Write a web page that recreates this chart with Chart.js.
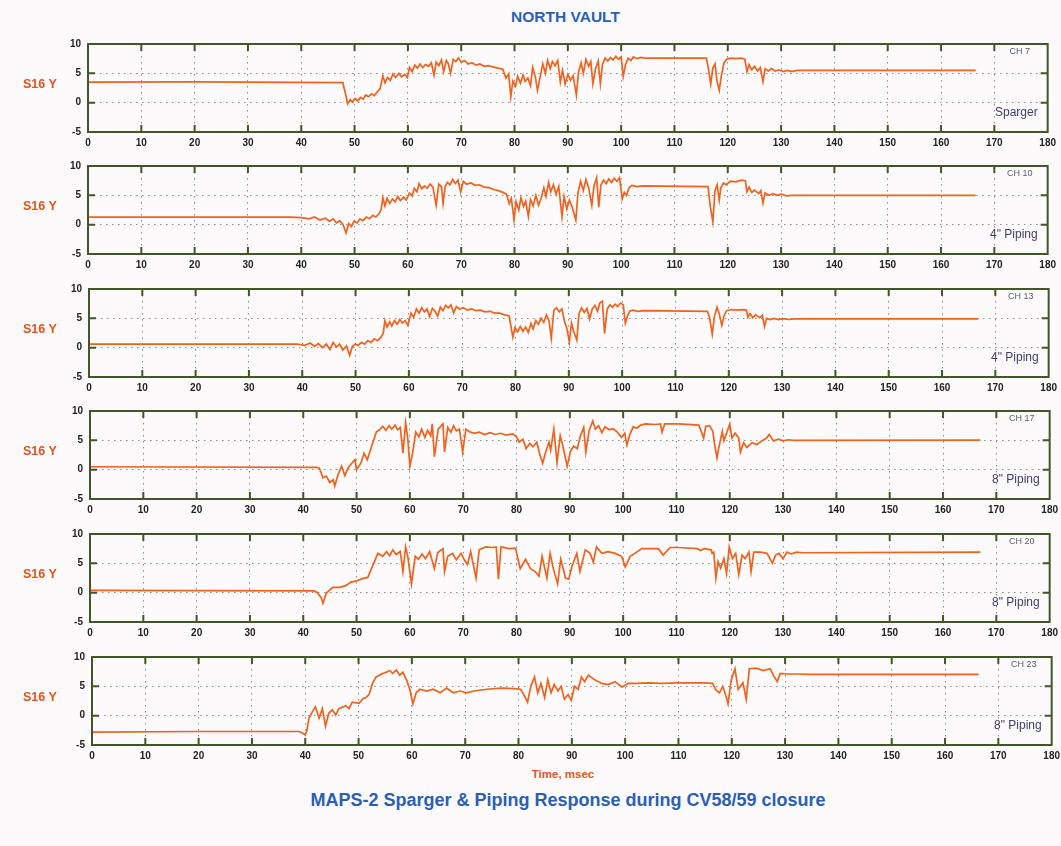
<!DOCTYPE html>
<html>
<head>
<meta charset="utf-8">
<script src="https://cdn.jsdelivr.net/npm/chart.js@4.4.0/dist/chart.umd.min.js"></script>
<style>
  body { margin: 0; background: #fcfafa; font-family: "Liberation Sans", Arial, sans-serif; }
  #page { position: relative; width: 1061px; height: 846px; overflow: hidden; }
  .panel { position: absolute; width: 1061px; height: 125px; }
  .ylab { position: absolute; left: 23px; color: #e5541f; font-weight: bold; font-size: 12.5px; }
  #title { position: absolute; top: 8px; left: 0; width: 1131px; text-align: center; color: #2b5fb4; font-weight: bold; font-size: 15.5px; }
  #xlab { position: absolute; top: 768px; left: 0; width: 1126px; text-align: center; color: #e5541f; font-weight: bold; font-size: 11.5px; }
  #foot { position: absolute; top: 790px; left: 0; width: 1136px; text-align: center; color: #2b5fb4; font-weight: bold; font-size: 18px; }
</style>
</head>
<body>
<div id="page">
  <div id="title">NORTH VAULT</div>
  <div id="xlab">Time, msec</div>
  <div id="foot">MAPS-2 Sparger &amp; Piping Response during CV58/59 closure</div>
</div>
<script>
// channel labels
var channels = ['CH 7', 'CH 10', 'CH 13', 'CH 17', 'CH 20', 'CH 23'];
var locations = ['Sparger', '4" Piping', '4" Piping', '8" Piping', '8" Piping', '8" Piping'];
var xTicks = [0, 10, 20, 30, 40, 50, 60, 70, 80, 90, 100, 110, 120, 130, 140, 150, 160, 170, 180];
var yTicks = [-5, 0, 5, 10];

// CH 7 - Sparger (time in msec, S16 Y)
var ch7T = [0, 20, 47.8, 48.3, 48.7, 49.2, 49.6, 50.1, 50.6, 51.1, 51.6, 52.1, 52.6, 53.2, 53.7, 54.3, 54.8, 55.3, 55.7, 56.2, 56.7, 57.2, 57.7, 58.3, 58.8, 59.4, 59.9,
  60.3, 60.8, 61.3, 61.8, 62.3, 62.8, 63.3, 63.9, 64.4, 64.9, 65.3, 65.8, 66.3, 66.7, 67.2, 67.6, 68.0, 68.5, 69.0, 69.5, 70.0, 70.6, 71.3, 72.0, 72.8, 73.5, 74.3, 75.1,
  76.0, 76.9, 77.8, 78.4, 78.9, 79.3, 79.7, 80.2, 80.6, 81.1, 81.6, 82.0, 82.5, 83.0, 83.4, 83.9, 84.3, 84.8, 85.3, 85.8, 86.2, 86.7, 87.1, 87.6, 88.1, 88.6, 89.0,
  89.5, 90.0, 90.5, 91.0, 91.6, 92.0, 92.5, 92.9, 93.4, 93.9, 94.3, 94.7, 95.2, 95.7, 96.1, 96.5, 97.0, 97.5, 98.0, 98.5, 99.0, 99.5, 100.0, 100.4, 100.8, 101.3,
  101.8, 102.3, 103.0, 103.6, 104.4, 116.0, 116.4, 116.8, 117.2, 117.6, 118.0, 118.4, 118.8, 119.3, 119.8, 120.5, 121.5, 122.5, 123.2, 123.6, 124.0, 124.5,
  125.0, 125.6, 126.1, 126.6, 127.0, 127.6, 128.2, 128.9, 129.6, 130.4, 131.2, 132.0, 133.0, 166.5];
var ch7Y = [3.5, 3.55, 3.4, 1.5, -0.2, 0.5, 0.1, 0.7, 0.3, 0.9, 0.6, 1.3, 1.0, 1.5, 1.2, 1.9, 2.4, 4.6, 3.4, 4.3, 3.8, 4.9, 4.3, 5.0, 4.4, 4.8, 4.3,
  6.0, 5.3, 6.4, 5.9, 6.6, 6.0, 6.5, 6.2, 6.8, 4.7, 6.9, 6.3, 7.3, 5.3, 7.2, 6.6, 5.0, 7.4, 7.0, 7.6, 6.9, 7.2, 6.6, 6.8, 6.4, 6.6, 6.2, 6.3,
  6.1, 5.9, 5.7, 4.2, 4.9, 1.0, 3.7, 2.8, 4.5, 3.3, 4.7, 3.6, 4.2, 2.9, 6.0, 4.4, 2.1, 4.3, 6.6, 5.0, 7.2, 5.8, 7.0, 6.3, 7.2, 3.5, 5.5,
  3.2, 4.8, 3.8, 4.6, 1.3, 5.2, 6.8, 5.0, 7.4, 6.2, 7.0, 3.2, 5.8, 7.1, 3.2, 6.5, 7.6, 7.1, 7.7, 7.3, 7.9, 7.4, 7.8, 4.5, 6.4, 7.6,
  7.2, 7.8, 7.5, 7.7, 7.6, 7.6, 5.6, 3.2, 5.9, 6.6, 3.6, 2.1, 4.6, 6.8, 7.4, 7.6, 7.5, 7.6, 7.4, 5.3, 6.5, 5.6,
  6.2, 5.4, 6.0, 3.6, 5.8, 5.4, 5.8, 5.4, 5.6, 5.3, 5.5, 5.3, 5.5, 5.5];

// CH 10 - 4" Piping
var ch10T = [0, 38, 40, 41.5, 42.5, 43.5, 44.5, 45.3, 46.0, 46.6, 47.2, 47.8, 48.4, 48.9, 49.4, 49.9, 50.5, 51.0, 51.6, 52.2, 52.8, 53.4, 54.0, 54.6, 55.0,
  55.3, 55.7, 56.1, 56.6, 57.1, 57.6, 58.1, 58.6, 59.2, 59.7, 60.3, 60.8, 61.2, 61.7, 62.1, 62.6, 63.1, 63.6, 64.2, 64.7, 65.3, 65.8, 66.3, 66.6, 67.0, 67.4,
  67.9, 68.4, 68.9, 69.4, 69.9, 70.4, 71.0, 71.8, 72.6, 73.4, 74.3, 75.2, 76.1, 77.0, 77.8, 78.5, 79.0, 79.4, 79.9, 80.3, 80.8, 81.2, 81.7, 82.1, 82.6, 83.0,
  83.5, 84.0, 84.5, 85.0, 85.5, 85.9, 86.4, 86.8, 87.3, 87.8, 88.3, 88.9, 89.3, 89.8, 90.3, 90.8, 91.5, 91.9, 92.4, 92.9, 93.4, 93.9, 94.5, 94.9, 95.4, 95.8,
  96.2, 96.7, 97.2, 97.7, 98.2, 98.7, 99.2, 99.7, 100.2, 100.6, 101.0, 101.5, 102.0, 103.0, 104.0, 116.3, 116.7, 117.2, 117.6, 118.0, 118.4, 118.7, 119.2,
  119.7, 120.5, 121.5, 122.5, 123.3, 123.6, 124.0, 124.5, 125.0, 125.8, 126.2, 126.6, 127.0, 127.7, 128.4, 129.2, 130.0, 131.0, 132.0, 166.5];
var ch10Y = [1.3, 1.3, 1.2, 1.0, 1.3, 0.8, 1.1, 0.6, 1.0, 0.3, 0.7, 0.1, -1.4, 0.2, -0.3, 0.6, 0.3, 1.0, 0.7, 1.3, 1.0, 1.6, 1.3, 1.9, 2.6,
  4.6, 3.2, 4.5, 3.6, 4.4, 3.9, 4.8, 4.1, 4.7, 4.2, 5.4, 4.9, 6.2, 5.6, 7.0, 6.1, 6.6, 6.2, 6.9, 6.4, 3.3, 6.9, 6.5, 3.6, 6.5, 7.2,
  6.8, 7.7, 7.0, 7.6, 5.6, 7.4, 6.9, 7.1, 6.7, 6.8, 6.4, 6.3, 6.0, 5.8, 5.5, 5.2, 3.6, 4.5, 0.8, 3.9, 2.5, 4.6, 3.1, 4.0, 1.4, 4.3,
  3.2, 5.0, 3.3, 4.5, 6.3, 4.8, 7.2, 5.6, 6.8, 5.2, 6.5, 1.4, 4.8, 2.7, 4.2, 3.0, 0.8, 5.4, 7.4, 5.8, 7.7, 6.3, 3.3, 6.6, 8.0, 3.0,
  6.7, 7.6, 7.0, 7.8, 7.2, 7.9, 7.4, 8.0, 4.4, 5.5, 5.0, 6.3, 6.7, 6.5, 6.6, 6.5, 3.2, 0.5, 5.8, 6.8, 4.2, 6.3, 7.1,
  6.8, 7.4, 7.3, 7.6, 7.5, 5.6, 6.4, 5.5, 5.9, 5.3, 5.8, 3.7, 5.4, 5.0, 5.3, 5.0, 5.2, 4.9, 5.0, 5.0];

// CH 13 - 4" Piping
var ch13T = [0, 39, 40.5, 41.5, 42.3, 43.0, 43.8, 44.5, 45.2, 45.8, 46.4, 47.0, 47.6, 48.3, 48.9, 49.4, 49.9, 50.5, 51.1, 51.7, 52.3, 52.9, 53.5, 54.1, 54.8,
  55.2, 55.5, 55.9, 56.4, 56.8, 57.3, 57.8, 58.3, 58.8, 59.3, 59.8, 60.4, 60.9, 61.4, 61.9, 62.4, 62.9, 63.4, 63.9, 64.4, 64.9, 65.4, 65.9, 66.4, 66.9, 67.4,
  67.9, 68.4, 68.9, 69.5, 70.2, 71.0, 71.8, 72.6, 73.4, 74.3, 75.2, 76.1, 77.0, 78.0, 78.8, 79.5, 79.9, 80.4, 80.9, 81.4, 81.9, 82.4, 82.9, 83.3, 83.8, 84.3,
  84.8, 85.3, 85.8, 86.3, 86.7, 87.2, 87.7, 88.2, 88.7, 89.2, 89.6, 90.1, 90.5, 90.9, 91.5, 91.9, 92.4, 92.9, 93.4, 93.9, 94.4, 94.9, 95.4, 95.8, 96.3, 96.7,
  97.2, 97.7, 98.2, 98.7, 99.2, 99.7, 100.2, 100.6, 101.0, 101.4, 102.0, 103.0, 104.0, 116.0, 116.4, 116.9, 117.3, 117.8, 118.2, 118.7, 119.1, 119.6, 120.5,
  121.5, 122.5, 123.3, 123.6, 124.0, 124.5, 125.0, 125.8, 126.3, 126.7, 127.1, 127.8, 128.5, 129.3, 130.2, 131.2, 132.5, 166.8];
var ch13Y = [0.6, 0.6, 0.4, 0.8, 0.2, 0.7, 0.0, 0.6, -0.3, 0.9, 0.1, 0.6, -0.4, 0.3, -1.3, 0.2, 0.6, 0.4, 0.9, 0.6, 1.2, 0.9, 1.5, 1.2, 1.8,
  2.5, 4.6, 3.5, 4.4, 3.7, 4.6, 4.0, 4.8, 4.2, 4.6, 3.8, 5.9, 5.2, 6.6, 5.9, 6.8, 6.1, 6.6, 5.3, 6.7, 6.2, 5.4, 6.9, 6.3, 7.2, 6.8,
  7.3, 5.9, 7.0, 6.6, 6.8, 6.4, 6.6, 6.3, 6.4, 6.1, 6.2, 5.9, 5.9, 5.6, 5.4, 1.8, 3.4, 2.7, 3.6, 2.8, 3.5, 2.6, 4.1, 3.2, 4.6, 4.0,
  5.0, 4.3, 5.6, 4.5, 1.6, 6.4, 6.8, 6.1, 6.6, 4.4, 3.4, 1.0, 4.2, 2.8, 1.3, 5.8, 6.8, 6.0, 6.7, 4.9, 6.6, 7.2, 6.2, 7.6, 7.9, 2.4,
  6.6, 7.3, 6.9, 7.4, 7.0, 7.6, 7.3, 4.2, 5.4, 6.2, 6.4, 6.2, 6.3, 6.2, 5.1, 2.3, 5.3, 6.9, 5.8, 3.8, 5.4, 6.3, 6.5,
  6.4, 6.5, 6.4, 5.2, 5.8, 5.1, 5.6, 5.1, 5.5, 3.6, 5.0, 4.8, 5.0, 4.8, 4.95, 4.8, 4.9, 4.9];

// CH 17 - 8" Piping
var ch17T = [0, 42.5, 43.0, 43.7, 44.3, 45.0, 45.6, 45.9, 46.5, 47.2, 47.8, 48.4, 49.1, 49.7, 50.0, 50.8, 51.4, 52.0, 52.8, 53.7, 54.3, 54.9, 55.5, 56.1, 56.6,
  57.2, 57.7, 58.2, 58.7, 59.2, 59.6, 60.0, 60.5, 61.1, 61.7, 62.2, 62.8, 63.3, 63.9, 64.2, 64.6, 65.3, 66.2, 66.5, 67.1, 67.7, 68.2, 68.7, 69.3, 69.9, 70.5,
  71.1, 72.0, 73.0, 74.0, 75.0, 76.0, 77.0, 78.0, 79.3, 80.0, 80.5, 81.2, 81.8, 82.5, 83.1, 83.8, 84.3, 84.9, 85.5, 86.1, 86.4, 87.0, 87.6, 88.2, 88.8, 89.5,
  90.1, 90.7, 91.4, 92.0, 92.6, 93.0, 93.6, 94.3, 94.8, 95.4, 96.0, 96.6, 97.4, 98.1, 98.8, 99.7, 100.3, 100.7, 101.3, 101.9, 102.6, 103.3, 104.2, 106.0,
  107.0, 107.3, 107.8, 110.4, 114.2, 115.1, 115.5, 116.2, 116.8, 117.1, 117.6, 117.9, 118.6, 118.9, 119.5, 120.0, 120.4, 121.0, 121.7, 122.0, 122.6, 123.2,
  124.2, 125.1, 126.0, 126.9, 127.4, 128.2, 129.1, 130.0, 131.0, 132.0, 167.0];
var ch17Y = [0.5, 0.4, 0.3, -1.4, -1.1, -2.2, -1.7, -2.8, -0.9, 0.6, -1.0, 0.3, 1.1, 1.7, 0.0, 1.1, 2.8, 1.7, 3.9, 6.4, 6.8, 7.4, 6.7, 7.5, 6.9,
  7.6, 6.8, 7.2, 2.8, 8.0, 5.3, 0.6, 2.8, 6.4, 5.6, 6.9, 5.5, 6.7, 5.8, 7.8, 2.2, 6.9, 7.8, 3.0, 7.2, 6.4, 7.5, 6.6, 6.9, 3.0, 6.9,
  6.5, 6.2, 6.4, 6.0, 6.3, 6.0, 6.2, 5.9, 6.1, 5.6, 4.7, 5.2, 3.6, 4.5, 3.9, 4.7, 2.8, 1.1, 3.1, 4.7, 3.3, 6.9, 1.2, 5.8, 3.6, 0.6,
  3.1, 4.0, 3.6, 5.8, 7.2, 3.0, 6.6, 8.3, 6.9, 7.5, 6.3, 7.3, 6.8, 7.0, 6.5, 5.5, 6.2, 4.2, 6.1, 7.3, 7.1, 7.6, 7.8, 7.7,
  7.8, 6.4, 7.8, 7.8, 7.6, 5.4, 7.4, 7.5, 6.6, 4.6, 2.0, 3.6, 6.5, 4.9, 6.5, 7.8, 5.4, 6.2, 5.4, 3.0, 4.6, 3.8,
  4.6, 4.3, 4.9, 5.4, 6.0, 4.9, 5.2, 4.9, 5.1, 5.0, 5.05];

// CH 20 - 8" Piping
var ch20T = [0, 41.9, 42.5, 43.4, 43.7, 44.3, 44.9, 45.5, 46.8, 48.0, 48.9, 50.0, 51.1, 52.1, 52.8, 54.0, 54.9, 55.6, 56.2, 56.8, 57.4, 58.2, 58.7, 59.2, 59.6,
  60.3, 61.0, 61.6, 62.3, 62.9, 63.7, 64.6, 65.2, 66.2, 66.5, 67.1, 68.0, 68.7, 69.6, 70.2, 70.8, 71.4, 72.4, 73.0, 74.2, 75.5, 76.2, 76.6, 77.1, 78.6, 79.8,
  80.7, 81.7, 82.6, 83.5, 84.2, 84.8, 85.7, 86.3, 86.9, 87.7, 88.3, 89.2, 89.8, 90.4, 91.3, 91.9, 92.9, 93.8, 94.4, 95.0, 96.0, 97.2, 98.5, 99.7, 100.4,
  101.3, 102.2, 103.5, 104.7, 106.6, 107.5, 108.8, 110.4, 113.9, 114.5, 115.2, 116.5, 116.7, 117.0, 117.4, 117.8, 118.3, 118.9, 119.4, 119.9, 120.5, 121.1,
  121.7, 122.3, 122.9, 123.6, 124.0, 124.5, 125.8, 127.0, 128.0, 128.6, 129.2, 130.0, 130.7, 131.5, 132.5, 133.5, 167.0];
var ch20Y = [0.4, 0.3, 0.1, -0.9, -1.8, -0.1, 0.4, 0.9, 0.9, 1.2, 1.8, 2.0, 2.4, 2.6, 4.1, 6.7, 6.2, 7.0, 6.3, 7.3, 6.5, 7.0, 3.6, 7.8, 6.2,
  1.5, 6.2, 5.7, 6.6, 5.8, 7.0, 4.1, 6.8, 7.5, 3.6, 6.2, 6.7, 5.6, 6.7, 5.6, 4.8, 7.0, 2.5, 7.3, 7.8, 7.7, 7.8, 2.3, 7.8, 7.5, 7.6,
  4.1, 5.7, 4.1, 3.6, 2.8, 6.2, 2.5, 6.7, 4.1, 1.5, 5.7, 2.5, 2.3, 4.5, 6.7, 3.6, 7.3, 6.7, 5.2, 7.8, 6.7, 7.0, 6.7, 6.2, 4.4,
  6.2, 6.7, 7.5, 7.5, 7.5, 6.4, 7.7, 7.7, 7.5, 7.2, 7.5, 7.3, 6.7, 6.9, 2.5, 5.3, 4.2, 5.8, 3.3, 7.8, 5.8, 6.7,
  3.1, 6.4, 5.8, 6.9, 3.6, 6.9, 6.9, 6.7, 5.0, 6.4, 6.7, 5.8, 6.9, 6.6, 6.9, 6.8, 6.9];

// CH 23 - 8" Piping
var ch23T = [0, 20, 38.8, 39.4, 40.0, 40.3, 40.7, 41.3, 41.9, 42.6, 43.2, 43.8, 44.4, 45.1, 45.7, 46.3, 47.6, 48.2, 48.8, 50.1, 50.8, 51.4, 52.0, 52.6, 53.3,
  53.9, 54.5, 55.2, 55.8, 56.4, 57.1, 57.7, 58.3, 59.0, 59.6, 60.2, 60.8, 61.5, 62.8, 64.0, 65.3, 66.5, 67.8, 69.0, 70.3, 71.6, 74.1, 76.7, 79.2, 80.4, 81.1,
  81.7, 82.3, 83.0, 83.6, 84.2, 84.9, 85.5, 86.1, 86.7, 87.4, 88.0, 88.6, 89.3, 89.9, 90.5, 91.2, 91.8, 92.4, 93.1, 94.3, 95.6, 96.8, 98.1, 99.4, 100.6,
  101.9, 104.4, 106.9, 109.5, 114.5, 116.4, 117.0, 117.7, 118.3, 118.9, 119.3, 119.9, 120.6, 121.2, 122.1, 122.7, 123.3, 124.6, 125.9, 127.2, 127.8, 128.5,
  129.1, 130.4, 132.3, 134.7, 166.3];
var ch23Y = [-2.8, -2.7, -2.7, -2.9, -3.3, -2.5, -0.4, 0.6, 1.5, -0.4, 1.2, -1.8, 0.4, 1.0, 0.1, 1.2, 1.7, 1.2, 2.3, 2.1, 2.9, 3.1, 3.7, 5.5, 6.6,
  6.9, 7.2, 7.4, 7.7, 7.2, 7.8, 6.9, 7.4, 6.1, 4.5, 2.0, 3.9, 4.5, 4.2, 4.5, 3.9, 4.7, 3.9, 4.2, 3.9, 4.2, 4.5, 4.7, 4.6, 4.5, 3.4,
  2.3, 5.0, 6.6, 3.9, 5.5, 3.1, 6.1, 3.9, 5.3, 4.2, 5.0, 2.8, 3.6, 2.6, 5.0, 4.5, 6.6, 5.8, 6.9, 6.1, 5.5, 5.3, 5.8, 4.9, 5.5,
  5.5, 5.6, 5.5, 5.6, 5.6, 5.5, 4.4, 3.9, 5.0, 3.4, 2.0, 6.1, 8.0, 4.5, 5.6, 2.8, 8.0, 8.1, 7.7, 8.0, 6.9, 5.8,
  7.2, 7.1, 7.1, 7.05, 7.05];

var seriesT = [ch7T, ch10T, ch13T, ch17T, ch20T, ch23T];
var seriesY = [ch7Y, ch10Y, ch13Y, ch17Y, ch20Y, ch23Y];
var panelTops = [39, 161, 284, 406, 529, 652];
var panelShift = [0, 0, 1, 2, 2, 4];   // scanned page drifts a little to the right

var frameColor = '#43552a';
var lineColor = '#f0621e';

// frame, inward tick marks and the channel texts
var panelDeco = {
  id: 'panelDeco',
  afterDatasetsDraw: function(chart, args, opts) {
    var ctx = chart.ctx;
    var a = chart.chartArea;
    var xs = chart.scales.x, ys = chart.scales.y;
    ctx.save();
    ctx.strokeStyle = frameColor;
    ctx.lineWidth = 2;
    ctx.beginPath();
    xTicks.forEach(function(v) {
      if (v === 0 || v === 180) return;
      var px = xs.getPixelForValue(v);
      ctx.moveTo(px, a.top); ctx.lineTo(px, a.top + 7);
      ctx.moveTo(px, a.bottom); ctx.lineTo(px, a.bottom - 7);
    });
    [0, 5].forEach(function(v) {
      var py = ys.getPixelForValue(v);
      ctx.moveTo(a.left, py); ctx.lineTo(a.left + 7, py);
      ctx.moveTo(a.right, py); ctx.lineTo(a.right - 7, py);
    });
    ctx.stroke();
    ctx.strokeRect(a.left, a.top, a.right - a.left, a.bottom - a.top);

    ctx.fillStyle = '#5a5e74';
    ctx.font = '9px "Liberation Sans", Arial, sans-serif';
    ctx.textAlign = 'center';
    ctx.textBaseline = 'middle';
    ctx.fillText(opts.ch, a.right - 28, a.top + 8);
    ctx.fillStyle = '#3d3f6c';
    ctx.font = '12px "Liberation Sans", Arial, sans-serif';
    ctx.textAlign = 'right';
    ctx.fillText(opts.loc, a.right - 10, a.bottom - 19);
    ctx.restore();
  }
};

var page = document.getElementById('page');

for (var i = 0; i < 6; i++) {
  var box = document.createElement('div');
  box.className = 'panel';
  box.style.top = (panelTops[i] - 8) + 'px';
  box.style.left = panelShift[i] + 'px';
  var cv = document.createElement('canvas');
  box.appendChild(cv);
  page.appendChild(box);

  var lab = document.createElement('div');
  lab.className = 'ylab';
  lab.style.top = (panelTops[i] + 38) + 'px';
  lab.textContent = 'S16 Y';
  page.appendChild(lab);

  var pts = seriesT[i].map(function(t, k) { return { x: t, y: seriesY[i][k] }; });

  new Chart(cv.getContext('2d'), {
    type: 'line',
    data: {
      datasets: [{
        data: pts,
        borderColor: lineColor,
        borderWidth: 1.7,
        pointRadius: 0,
        tension: 0,
        fill: false
      }]
    },
    options: {
      responsive: true,
      maintainAspectRatio: false,
      animation: false,
      layout: { padding: { top: 8, right: 12, left: 0, bottom: 0 } },
      plugins: {
        legend: { display: false },
        tooltip: { enabled: false },
        panelDeco: { ch: channels[i], loc: locations[i] }
      },
      scales: {
        x: {
          type: 'linear',
          min: 0,
          max: 180,
          afterBuildTicks: function(s) { s.ticks = xTicks.map(function(v) { return { value: v }; }); },
          afterFit: function(s) { s.height = 24; },
          ticks: { color: '#222', padding: 5, maxRotation: 0, autoSkip: false, font: { family: '"Liberation Sans", Arial', size: 10, weight: 'bold' } },
          grid: { color: '#8c8c8c', lineWidth: 1, drawTicks: false },
          border: { display: false, dash: [1.5, 4.5] }
        },
        y: {
          min: -5,
          max: 10,
          afterBuildTicks: function(s) { s.ticks = yTicks.map(function(v) { return { value: v }; }); },
          afterFit: function(s) { s.width = 88; },
          ticks: { color: '#222', padding: 7, font: { family: '"Liberation Sans", Arial', size: 10, weight: 'bold' } },
          grid: { color: '#8c8c8c', lineWidth: 1, drawTicks: false },
          border: { display: false, dash: [1.5, 4.5] }
        }
      }
    },
    plugins: [panelDeco]
  });
}
</script>
</body>
</html>
